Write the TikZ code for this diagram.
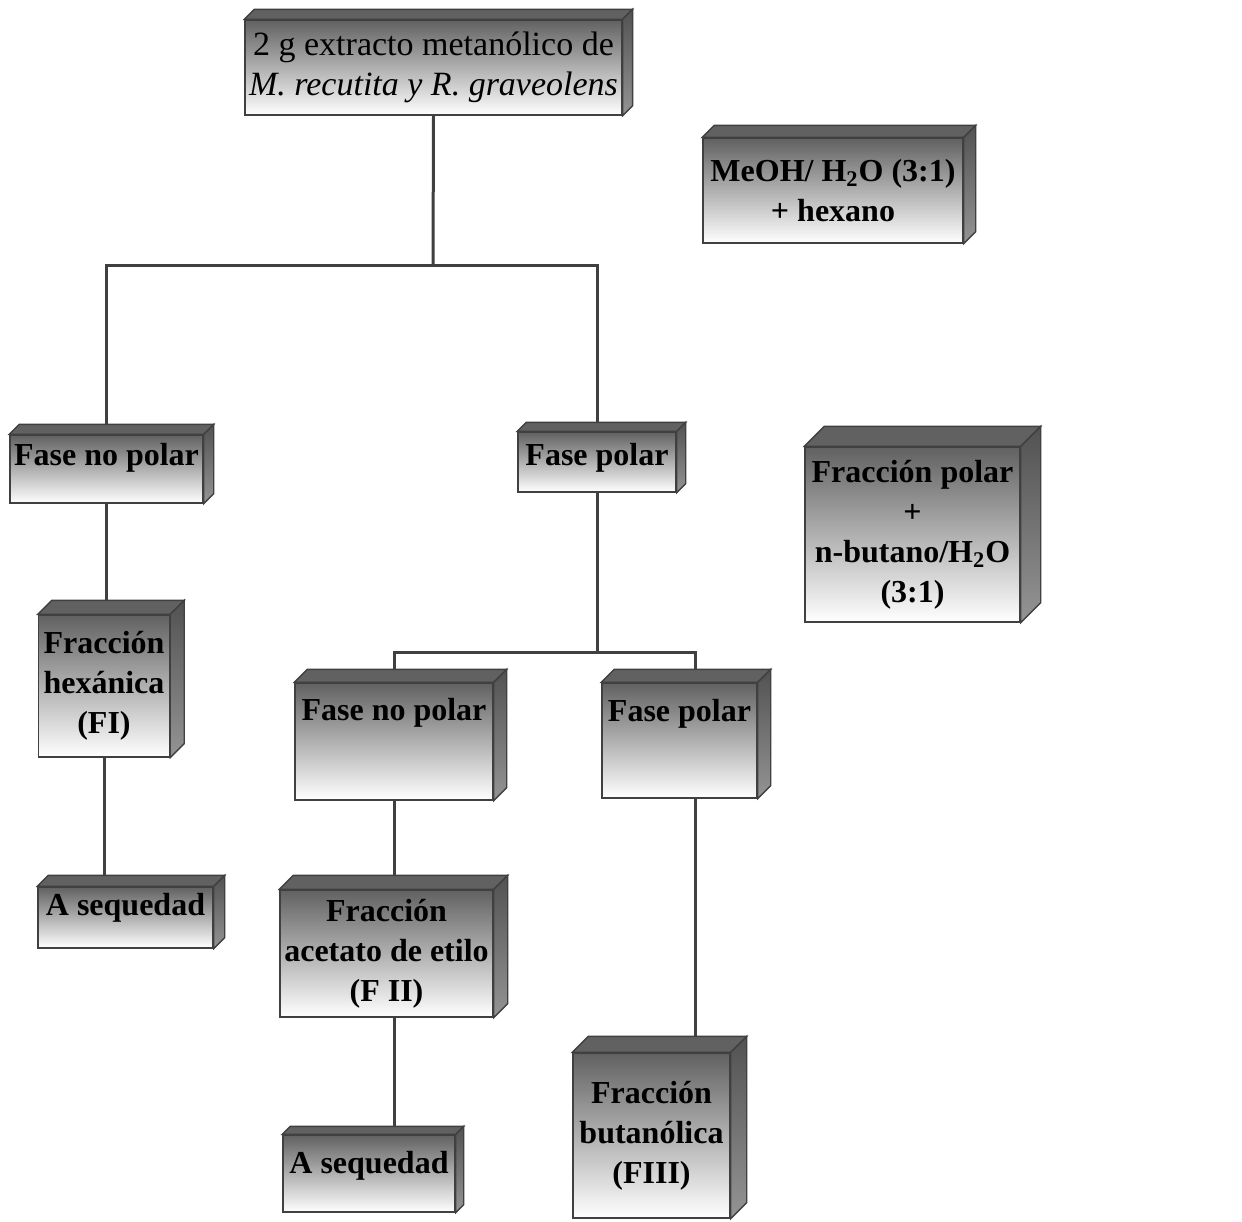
\documentclass[tikz,border=0pt]{standalone}
\usepackage{fontspec}
\setmainfont{Liberation Serif}
\usepackage{tikz}
\usetikzlibrary{calc}
\usetikzlibrary{backgrounds}
\newcommand{\boxfont}{\fontsize{16}{20}\selectfont\bfseries}
\newcommand{\titlefont}{\fontsize{17}{20}\selectfont}
\newcommand{\boxline}{0.7pt}
\tikzset{
    stage/.style={draw=black!75, line width=\boxline, top color=black!62, bottom color=white, align=center, inner sep=2pt, font=\boxfont},
    lift/.style={text depth=#1},
    topface/.style={fill=black!62, draw=black!75, line width=\boxline},
    sideface/.style={top color=black!68, bottom color=black!42, draw=black!75, line width=\boxline},
    link/.style={draw=black!75, line width=1.5pt}
}
% top and right faces of a box, #2 = depth
\newcommand{\boxfaces}[2]{%
    \path[topface] (#1.north west) -- ++(#2,-#2) -- ($(#1.north east)+(#2,-#2)$) -- (#1.north east) -- cycle;
    \path[sideface] (#1.north east) -- ++(#2,-#2) -- ($(#1.south east)+(#2,-#2)$) -- (#1.south east) -- cycle;
}

\begin{document}
\begin{tikzpicture}[x=0.5pt, y=-0.5pt]
    \useasboundingbox (0,0) rectangle (1242,1221);

    \node[stage, font=\titlefont, minimum width=183.5pt, minimum height=47.5pt] (ext) at (433.5,67.5)
        {2 g extracto metanólico de\\\textit{M. recutita y R. graveolens}};
    \node[stage, minimum width=130pt, minimum height=52.5pt] (meoh) at (833,190.5)
        {MeOH/ H\textsubscript{2}O (3:1)\\+ hexano};

    \node[stage, lift=15pt, minimum width=96.5pt, minimum height=34pt] (fnpA) at (106.5,469) {Fase no polar};
    \node[stage, lift=8pt, minimum width=79pt, minimum height=30pt] (fpA) at (597,462) {Fase polar};
    \node[stage, minimum width=107.5pt, minimum height=87.5pt] (fpbut) at (912.5,534.5)
        {Fracción polar\\+\\n-butano/H\textsubscript{2}O\\(3:1)};

    \node[stage, minimum width=65.5pt, minimum height=71pt] (hexA) at (104,686) {Fracción\\hexánica\\(FI)};
    \node[stage, lift=32pt, minimum width=99pt, minimum height=58.5pt] (fnpB) at (394,741.5) {Fase no polar};
    \node[stage, lift=30.5pt, minimum width=77.5pt, minimum height=57.5pt] (fpB) at (679.5,740.5) {Fase polar};

    \node[stage, lift=13.5pt, minimum width=87.5pt, minimum height=30.5pt] (seqA) at (125.5,917.5) {A sequedad};
    \node[stage, minimum width=106.5pt, minimum height=63.5pt] (acetB) at (386.5,953.5) {Fracción\\acetato de etilo\\(F II)};
    \node[stage, minimum width=78.5pt, minimum height=82.5pt] (butB) at (651.5,1135.5) {Fracción\\butanólica\\(FIII)};
    \node[stage, lift=11.5pt, minimum width=86pt, minimum height=38.5pt] (seqB) at (369,1173.5) {A sequedad};

    \boxfaces{ext}{10}
    \boxfaces{meoh}{12}
    \boxfaces{fnpA}{10}
    \boxfaces{fpA}{9}
    \boxfaces{fpbut}{20}
    \boxfaces{hexA}{14}
    \boxfaces{fnpB}{13}
    \boxfaces{fpB}{13}
    \boxfaces{seqA}{11}
    \boxfaces{acetB}{14}
    \boxfaces{butB}{16}
    \boxfaces{seqB}{8}

    \coordinate (splitA) at (433,265);
    \coordinate (splitB) at (597,652);

    \begin{scope}[on background layer]
        \fill[white] (0,0) rectangle (1242,1221);
        \draw[link] (ext.south) -- (splitA);
        \draw[link] (fnpA.north) |- (splitA) -| (fpA.north);
        \draw[link] (fpA.south) -- (splitB);
        \draw[link] (fnpB.north) |- (splitB) -| ([xshift=8pt]fpB.north);
        \draw[link] (fnpA.south) -- (fnpA.south |- hexA.north);
        \draw[link] (hexA.south) -- (hexA.south |- seqA.north);
        \draw[link] (fnpB.south) -- (fnpB.south |- acetB.north);
        \draw[link] (fnpB.south |- acetB.south) -- (fnpB.south |- seqB.north);
        \draw[link] ([xshift=8pt]fpB.south) -- ([xshift=8pt]fpB.south |- butB.north);
    \end{scope}
\end{tikzpicture}
\end{document}
